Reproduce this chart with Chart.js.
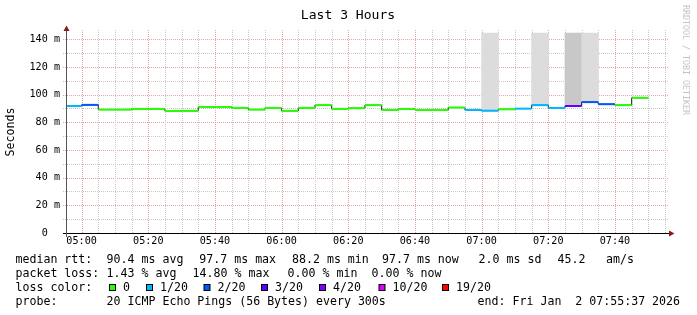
<!DOCTYPE html>
<html><head><meta charset="utf-8">
<script src="https://cdn.jsdelivr.net/npm/chart.js@4.4.1/dist/chart.umd.min.js"></script>
<style>html,body{margin:0;padding:0;background:#fff;}canvas{display:block;}</style>
</head><body>
<canvas id="c" width="697" height="315"></canvas>
<script>
// ---- data ----
const windowStart = '04:55:37';
const windowEnd = '07:55:37';
const stepEnds = ['05:00','05:05','05:10','05:15','05:20','05:25','05:30','05:35','05:40','05:45',
  '05:50','05:55','06:00','06:05','06:10','06:15','06:20','06:25','06:30','06:35',
  '06:40','06:45','06:50','06:55','07:00','07:05','07:10','07:15','07:20','07:25',
  '07:30','07:35','07:40','07:45','07:50'];
const medianMs = [91.8,92.6,89.2,89.2,89.7,89.7,88.2,88.3,91.0,91.0,
  90.4,89.2,90.4,88.3,90.4,92.4,89.7,90.2,92.4,88.9,
  89.7,88.9,88.9,90.7,88.9,88.4,89.4,89.9,92.4,90.4,
  91.8,94.6,93.1,92.4,97.7];
const lostOf20 = [1,2,0,0,0,0,0,0,0,0,
  0,0,0,0,0,0,0,0,0,0,
  0,0,0,0,1,1,0,1,1,1,
  3,2,2,0,0];
const smokeSteps = ['07:05','07:20','07:30','07:35'];
const smokeTopMs = [144.5,144.5,144.5,144.5];
const smokeDensity = [1,1,2,1];
const xTickLabels = ['05:00','05:20','05:40','06:00','06:20','06:40','07:00','07:20','07:40'];
const yTickLabels = ['0  ','20 m','40 m','60 m','80 m','100 m','120 m','140 m'];
const lossLegend = ['0','1/20','2/20','3/20','4/20','10/20','19/20'];
const lossThresholds = [0,1,2,3,4,10,19];
const lossColors = ['#26ff00','#00b8ff','#0059ff','#5e00ff','#7e00ff','#dd00ff','#ff0000'];
const rttStats = ['median rtt:','90.4 ms avg','97.7 ms max','88.2 ms min','97.7 ms now','2.0 ms sd','45.2','am/s'];
const lossStats = ['packet loss:','1.43 % avg','14.80 % max','0.00 % min','0.00 % now'];
const probeText = ['probe:','20 ICMP Echo Pings (56 Bytes) every 300s','end: Fri Jan  2 07:55:37 2026'];
const titleText = 'Last 3 Hours';
const yTitle = 'Seconds';
const watermark = 'RRDTOOL / TOBI OETIKER';

// ---- helpers ----
function toMin(s){ const p = s.split(':').map(Number); return p[0]*60 + p[1] + (p[2]||0)/60; }
function lossColor(n){ let k = 0; lossThresholds.forEach((t,i)=>{ if (n >= t) k = i; }); return lossColors[k]; }
const xMin = toMin(windowStart), xMax = toMin(windowEnd);
const stepStart = i => i === 0 ? xMin : toMin(stepEnds[i-1]);

const medianSegs = [];
stepEnds.forEach((t,i)=>{
  medianSegs.push({x: stepStart(i), y: medianMs[i]});
  medianSegs.push({x: toMin(t), y: medianMs[i]});
  medianSegs.push({x: toMin(t), y: null});
});
const connector = [{x: xMin, y: medianMs[0]}].concat(stepEnds.map((t,i)=>({x: toMin(t), y: medianMs[i]})));
const smokeData = smokeSteps.map((t,i)=>{
  const k = stepEnds.indexOf(t);
  return {x: toMin(t) - 2.5, y: [medianMs[k], smokeTopMs[i]]};
});

const MONO = '"DejaVu Sans Mono", monospace';
const MAJOR = '#eba3a3', MINOR = '#c8c8c8';
const isMajorVal = v => Math.round(v) % 20 === 0;

// dotted grid drawn from the scales' own ticks
const dottedGrid = {
  id: 'dottedGrid',
  beforeDatasetsDraw(chart){
    const ctx = chart.ctx, a = chart.chartArea;
    const xs = chart.scales.x, ys = chart.scales.y;
    ctx.save();
    ys.ticks.forEach(t => {
      const py = Math.round(ys.getPixelForValue(t.value));
      if (t.value === 0) return;
      ctx.fillStyle = isMajorVal(t.value) ? MAJOR : MINOR;
      for (let px = a.left - 4; px <= a.right + 1; px += 2) ctx.fillRect(px, py, 1, 1);
    });
    xs.ticks.forEach(t => {
      const px = Math.round(xs.getPixelForValue(t.value));
      ctx.fillStyle = isMajorVal(t.value) ? MAJOR : MINOR;
      for (let py = a.bottom - 1; py >= a.top - 1; py -= 2) ctx.fillRect(px, py, 1, 1);
    });
    ctx.restore();
  }
};

const decor = {
  id: 'decor',
  afterDraw(chart){
    const ctx = chart.ctx, a = chart.chartArea;
    ctx.save();
    // axes
    ctx.lineWidth = 1;
    ctx.strokeStyle = '#000';
    ctx.beginPath(); ctx.moveTo(a.left-4, a.bottom+0.5); ctx.lineTo(a.right+2, a.bottom+0.5); ctx.stroke();
    ctx.strokeStyle = '#555';
    ctx.beginPath(); ctx.moveTo(a.left-0.5, a.bottom+4); ctx.lineTo(a.left-0.5, a.top-1); ctx.stroke();
    ctx.fillStyle = '#8b1a1a';
    ctx.beginPath(); ctx.moveTo(a.left-3.5, a.top); ctx.lineTo(a.left+2.5, a.top); ctx.lineTo(a.left-0.5, a.top-5.5); ctx.closePath(); ctx.fill();
    ctx.beginPath(); ctx.moveTo(a.right+2, a.bottom-2.5); ctx.lineTo(a.right+2, a.bottom+3.5); ctx.lineTo(a.right+7.5, a.bottom+0.5); ctx.closePath(); ctx.fill();
    // title
    ctx.fillStyle = '#000';
    ctx.font = '13.05px ' + MONO;
    ctx.textAlign = 'center'; ctx.textBaseline = 'alphabetic';
    ctx.fillText(titleText, 348, 18.5);
    // watermark
    ctx.save();
    ctx.translate(685, 5); ctx.rotate(Math.PI/2);
    ctx.font = '8.3px ' + MONO; ctx.fillStyle = '#c4c4c4';
    ctx.textAlign = 'left'; ctx.textBaseline = 'middle';
    ctx.fillText(watermark, 0, 0);
    ctx.restore();
    // legend
    ctx.font = '11.6px ' + MONO; ctx.fillStyle = '#000';
    ctx.textAlign = 'left'; ctx.textBaseline = 'alphabetic';
    const r1x = [15.5,106.6,199.3,292,382,478.6,557.6,606];
    rttStats.forEach((s,i)=>ctx.fillText(s, r1x[i], 263));
    const r2x = [15.5,106.6,192.6,287.6,371.6];
    lossStats.forEach((s,i)=>ctx.fillText(s, r2x[i], 277));
    ctx.fillText('loss color:', 15.5, 291);
    const bx = [109,146,203.5,261,319,378.5,442];
    lossLegend.forEach((s,i)=>{
      ctx.fillStyle = '#000'; ctx.fillRect(bx[i], 284, 7, 7);
      ctx.fillStyle = lossColors[i]; ctx.fillRect(bx[i]+1, 285, 5, 5);
      ctx.fillStyle = '#000'; ctx.fillText(s, bx[i]+14, 291);
    });
    const r4x = [15.5,106.6,477.6];
    probeText.forEach((s,i)=>ctx.fillText(s, r4x[i], 305));
    ctx.restore();
  }
};

new Chart(document.getElementById('c'), {
  type: 'line',
  data: { datasets: [
    { type: 'bar', data: smokeData, backgroundColor: smokeDensity.map(d => d > 1 ? '#c8c8c8' : '#dcdcdc'),
      borderWidth: 0, barPercentage: 1, categoryPercentage: 1, grouped: false, order: 3 },
    { type: 'line', data: connector, stepped: 'after', borderColor: '#222', borderWidth: 1,
      pointRadius: 0, fill: false, order: 2 },
    { type: 'line', data: medianSegs, borderColor: '#26ff00', borderWidth: 2, pointRadius: 0,
      fill: false, spanGaps: false, order: 1,
      segment: { borderColor: c => lossColor(lostOf20[Math.floor(c.p0DataIndex/3)]) } }
  ]},
  options: {
    responsive: false, animation: false, events: [],
    devicePixelRatio: 1,
    layout: { padding: { left: 0, right: 30, top: 31, bottom: 60 } },
    plugins: { legend: { display: false }, tooltip: { enabled: false }, title: { display: false } },
    scales: {
      x: {
        type: 'linear', min: xMin, max: xMax, offset: false,
        afterBuildTicks: ax => { const t = []; for (let v = 300; v <= 475; v += 5) t.push({value: v}); ax.ticks = t; },
        afterFit: s => { s.height = 22; },
        ticks: { autoSkip: false, maxRotation: 0, minRotation: 0, padding: 2, color: '#000',
          font: { family: MONO, size: 10.15 },
          callback: v => isMajorVal(v) ? xTickLabels[Math.round((v - 300) / 20)] : '' },
        grid: { display: false, offset: false, drawTicks: false },
        border: { display: false }
      },
      y: {
        type: 'linear', min: 0, max: 146,
        afterBuildTicks: ax => { const t = []; for (let v = 0; v <= 140; v += 10) t.push({value: v}); ax.ticks = t; },
        afterFit: s => { s.width = 67; },
        ticks: { autoSkip: false, padding: 7, color: '#000', font: { family: MONO, size: 10.15 },
          callback: v => isMajorVal(v) ? yTickLabels[Math.round(v / 20)] : '' },
        grid: { display: false, drawTicks: false },
        border: { display: false },
        title: { display: true, text: yTitle, color: '#000', font: { family: MONO, size: 11.6 }, padding: { top: 4, bottom: 0 } }
      }
    }
  },
  plugins: [dottedGrid, decor]
});
</script>
</body></html>
